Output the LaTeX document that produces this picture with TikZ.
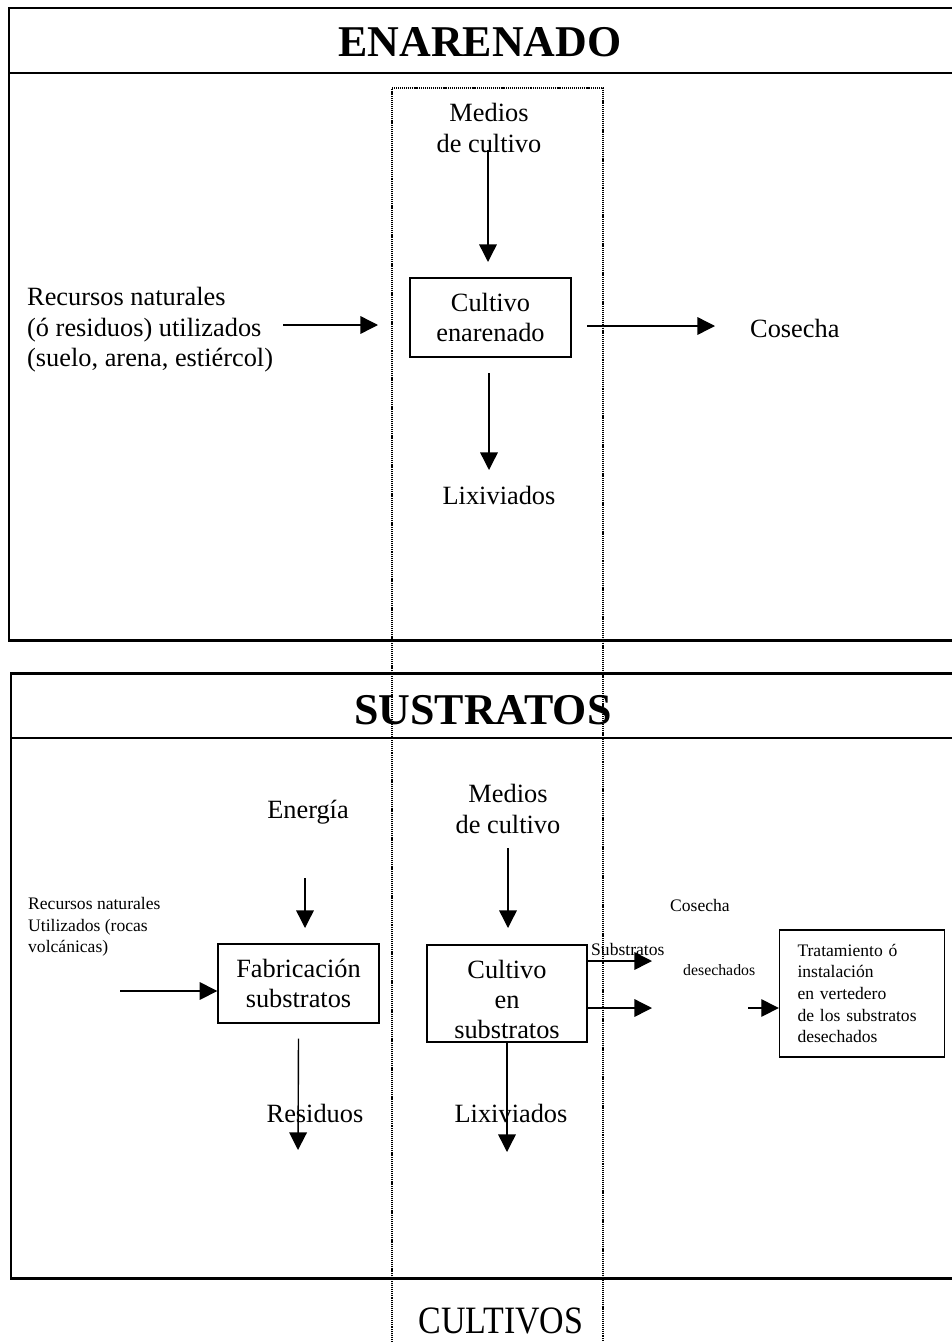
\documentclass[tikz,border=0pt]{standalone}
\usepackage{fontspec}
\setmainfont{Liberation Serif}
\usetikzlibrary{arrows.meta}
\newcommand{\mainsize}{\fontsize{15}{17.3}\selectfont}
\newcommand{\smallsize}{\fontsize{10}{12.3}\selectfont}
\begin{document}
\begin{tikzpicture}[x=0.02cm,y=-0.02cm,
	frame/.style={line width=1.7pt},
	band/.style={line width=1.2pt},
	cultcol/.style={line width=0.75pt,dash pattern=on 0.6pt off 0.5pt},
	box/.style={draw,line width=0.8pt,inner sep=0pt,align=center,font=\mainsize},
	big/.style={font=\mainsize,align=center},
	small/.style={font=\smallsize,align=left},
	title/.style={font=\fontsize{25}{30}\selectfont\bfseries},
	arr/.style={line width=0.8pt,-{Triangle[length=10pt,width=10pt]}}]
	\useasboundingbox (0,0) rectangle (952,1342);
	\draw[frame] (952,8) -- (9,8) -- (9,640) -- (952,640);
	\draw[band] (9,73) -- (952,73);
	\draw[frame] (952,673) -- (11,673) -- (11,1278) -- (952,1278);
	\draw[band] (11,738) -- (952,738);
	\draw[cultcol] (392,1342) -- (392,88) -- (603,88) -- (603,1342);
	\node[title] (tenar) at (480,42) {ENARENADO};
	\node[title] (tsust) at (483,710) {SUSTRATOS};
	\node[font=\fontsize{21}{24}\selectfont] (tcult) at (501,1321) {\scalebox{0.92}[1.05]{CULTIVOS}};
	\node[big] (med1) at (489,128) {Medios\\de cultivo};
	\node[box,minimum width=3.22cm,minimum height=1.58cm] (cenar) at (490.5,317.5) {Cultivo\\enarenado};
	\node[big,align=left,anchor=west] (rec1) at (21,330) {Recursos naturales\\(ó residuos) utilizados\\(suelo, arena, estiércol)};
	\node[big,anchor=west] (cos1) at (744,328) {Cosecha};
	\node[big] (lix1) at (499,495) {Lixiviados};
	\coordinate (m1s) at (488,150); \coordinate (m1e) at (488,262);
	\coordinate (r1s) at (283,325); \coordinate (r1e) at (378,325);
	\coordinate (c1s) at (587,326); \coordinate (c1e) at (715,326);
	\coordinate (l1s) at (489,373); \coordinate (l1e) at (489,470);
	\draw[arr] (m1s) -- (m1e);
	\draw[arr] (r1s) -- (r1e);
	\draw[arr] (c1s) -- (c1e);
	\draw[arr] (l1s) -- (l1e);
	\node[big] (ener) at (308,812) {Energía};
	\node[big] (med2) at (508,809) {Medios\\de cultivo};
	\node[small,anchor=west] (rec2) at (22,927) {Recursos naturales\\Utilizados (rocas\\volcánicas)};
	\node[box,minimum width=3.22cm,minimum height=1.58cm] (fab) at (298.5,983.5) {Fabricación\\substratos};
	\node[box,minimum width=3.2cm,minimum height=1.94cm,label={[big,yshift=-3.4pt]center:{Cultivo\\en\\substratos}}] (csub) at (507,993.5) {};
	\node[small,anchor=west] (cos2) at (664,905) {Cosecha};
	\node[small,anchor=west] (subs) at (585,949) {Substratos};
	\node[small,anchor=west,font=\fontsize{9}{11}\selectfont] (dese) at (677,970) {desechados};
	\node[box,font=\smallsize,align=left,text width=2.58cm,inner xsep=0.36cm,minimum height=2.54cm] (trat) at (862,993.5) {Tratamiento ó\\instalación\\en vertedero\\de los substratos\\desechados};
	\node[big] (res) at (315,1113) {Residuos};
	\node[big] (lix2) at (511,1113) {Lixiviados};
	\coordinate (es) at (305,878); \coordinate (ee) at (305,928);
	\coordinate (m2s) at (508,848); \coordinate (m2e) at (508,928);
	\coordinate (r2s) at (120,991);
	\coordinate (fe) at (298,1150);
	\coordinate (l2e) at (507,1152);
	\coordinate (s1e) at (652,961); \coordinate (s2e) at (652,1008);
	\coordinate (ts) at (748,1008);
	\draw[arr] (es) -- (ee);
	\draw[arr] (m2s) -- (m2e);
	\draw[arr] (r2s) -- (r2s -| fab.west);
	\draw[arr] ([yshift=-0.3cm]fab.south) -- (fe);
	\draw[arr] (csub.south) -- (l2e);
	\draw[arr] (csub.east |- s1e) -- (s1e);
	\draw[arr] (csub.east |- s2e) -- (s2e);
	\draw[arr] (ts) -- (ts -| trat.west);
\end{tikzpicture}
\end{document}
